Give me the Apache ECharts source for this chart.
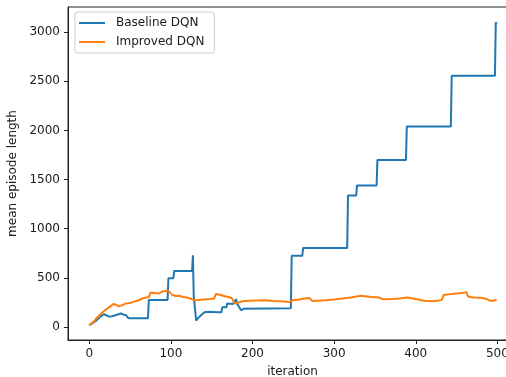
<!DOCTYPE html>
<html>
<head>
<meta charset="utf-8">
<script src="https://cdn.jsdelivr.net/npm/echarts@6/dist/echarts.min.js"></script>
<style>
  html, body { margin: 0; padding: 0; background: #fff; }
  #chart { width: 506px; height: 377px; }
</style>
</head>
<body>
<div id="chart"></div>
<script>
// iteration / mean episode length
const baselineIter = [0, 5, 10, 15, 18, 20, 24, 28, 33, 39, 42, 45, 47, 48, 72, 73, 96, 97, 103, 104,
  126, 127, 128, 131, 133, 137, 141, 146, 158, 162, 163, 168, 169, 176, 178, 180, 181, 183, 186, 189,
  190, 247, 248, 261, 262, 316, 317, 327, 328, 352, 353, 388, 389, 443, 444, 497, 498, 499];
const baselineLen = [20, 45, 75, 115, 130, 135, 108, 110, 122, 138, 125, 122, 110, 90, 90, 274, 274, 495, 495, 570,
  570, 730, 320, 64, 90, 120, 150, 155, 150, 150, 200, 200, 240, 235, 240, 282, 240, 220, 170, 185,
  190, 190, 725, 725, 805, 805, 1338, 1338, 1440, 1440, 1700, 1700, 2040, 2040, 2555, 2555, 3100, 3085];

const improvedIter = [0, 5, 10, 15, 20, 25, 30, 33, 36, 40, 45, 50, 55, 60, 65, 70, 73, 75, 80, 85,
  90, 95, 98, 100, 102, 106, 110, 115, 120, 125, 128, 132, 140, 148, 153, 155, 160, 165, 170, 175,
  177, 178, 183, 188, 195, 205, 215, 225, 235, 245, 250, 258, 265, 270, 273, 280, 290, 300, 310, 320,
  333, 345, 355, 360, 370, 380, 390, 400, 410, 420, 428, 432, 434, 440, 450, 458, 462, 464, 470, 480,
  487, 491, 495, 499];
const improvedLen = [22, 50, 100, 140, 175, 205, 235, 225, 210, 220, 240, 245, 258, 270, 290, 300, 305, 350, 345, 340,
  362, 370, 360, 350, 325, 315, 318, 305, 300, 285, 275, 272, 280, 285, 290, 335, 328, 315, 305, 292,
  280, 240, 250, 262, 268, 270, 272, 265, 262, 255, 275, 280, 292, 295, 265, 268, 272, 280, 290, 300,
  318, 305, 300, 282, 285, 290, 300, 285, 268, 262, 270, 276, 325, 332, 342, 348, 355, 310, 300, 298,
  285, 266, 268, 278];

const xTicks = [0, 100, 200, 300, 400, 500];
const yTicks = [0, 500, 1000, 1500, 2000, 2500, 3000];

const FONT = 'DejaVu Sans';
const chart = echarts.init(document.getElementById('chart'), null, { renderer: 'canvas' });

const axisText = { color: '#1a1a1a', fontFamily: FONT, fontSize: 12 };

chart.setOption({
  animation: false,
  backgroundColor: '#ffffff',
  grid: {
    left: 68,
    top: 7,
    right: -11,
    bottom: 37,
    outerBoundsMode: 'none',
    containLabel: false,
    show: true,
    borderColor: '#222',
    borderWidth: 1,
  },
  legend: {
    orient: 'vertical',
    left: 75,
    top: 12,
    padding: [4, 10, 4, 4],
    icon: 'rect',
    itemWidth: 26,
    itemHeight: 2,
    itemGap: 5,
    backgroundColor: 'rgba(255,255,255,0.8)',
    borderColor: '#cccccc',
    borderWidth: 1,
    borderRadius: 3,
    textStyle: { color: '#1a1a1a', fontFamily: FONT, fontSize: 12, lineHeight: 14, padding: [0, 0, 0, 6] },
    data: ['Baseline DQN', 'Improved DQN'],
  },
  xAxis: {
    type: 'value',
    min: -26,
    max: 524,
    name: 'iteration',
    nameLocation: 'middle',
    nameGap: 26,
    nameTextStyle: axisText,
    splitLine: { show: false },
    axisLine: { onZero: false, lineStyle: { color: '#222', width: 1 } },
    axisTick: { customValues: xTicks, length: 4, lineStyle: { color: '#222' } },
    axisLabel: { customValues: xTicks, margin: 8, ...axisText },
  },
  yAxis: {
    type: 'value',
    min: -132,
    max: 3255,
    name: 'mean episode length',
    nameLocation: 'middle',
    nameGap: 42,
    nameTextStyle: axisText,
    splitLine: { show: false },
    axisLine: { show: true, onZero: false, lineStyle: { color: '#222', width: 1 } },
    axisTick: { show: true, customValues: yTicks, length: 4, lineStyle: { color: '#222' } },
    axisLabel: { customValues: yTicks, margin: 8, formatter: (v) => String(v), ...axisText },
  },
  series: [
    {
      name: 'Baseline DQN',
      type: 'line',
      symbol: 'none',
      color: '#1f77b4',
      lineStyle: { width: 2, color: '#1f77b4' },
      data: baselineIter.map((it, i) => [it, baselineLen[i]]),
    },
    {
      name: 'Improved DQN',
      type: 'line',
      symbol: 'none',
      color: '#ff7f0e',
      lineStyle: { width: 2, color: '#ff7f0e' },
      data: improvedIter.map((it, i) => [it, improvedLen[i]]),
    },
  ],
});
</script>
</body>
</html>
